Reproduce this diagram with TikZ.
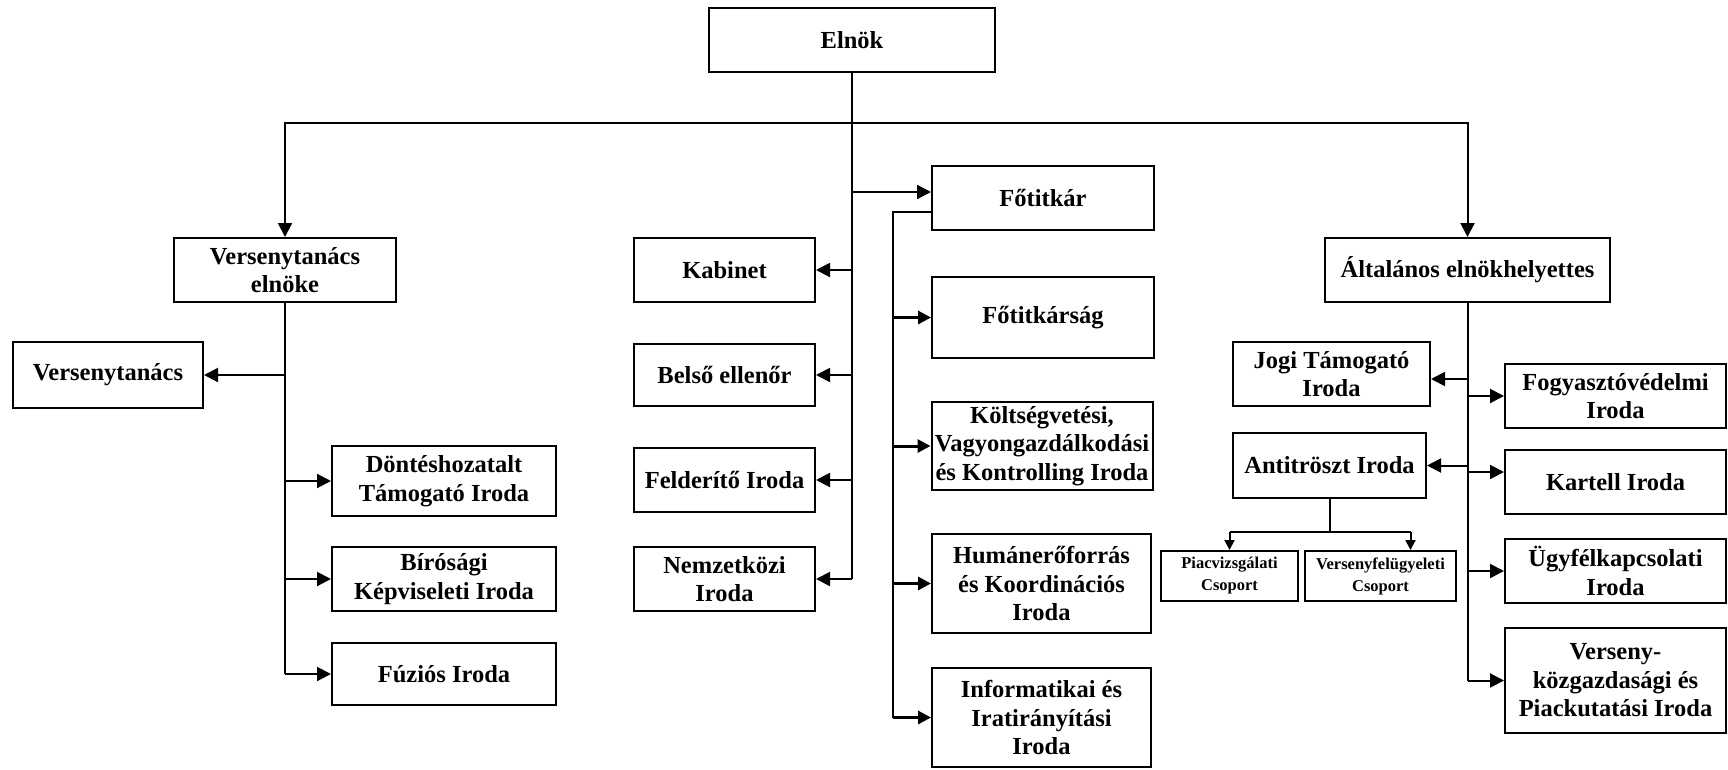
\documentclass[tikz,border=0pt]{standalone}
\usepackage{fontspec}
\setmainfont{Liberation Serif}
\usetikzlibrary{arrows.meta,calc}
\begin{document}
\begin{tikzpicture}[x=1pt,y=-1pt,
 box/.style={draw,line width=2pt,align=center,inner sep=0pt,font=\fontsize{24.5}{28.5}\selectfont\bfseries},
 sbox/.style={box,font=\fontsize{16.5}{22}\selectfont\bfseries},
 conn/.style={line width=2pt},
 arr/.style={conn,-{Triangle[length=14pt,width=14pt]}},
 farr/.style={line width=3pt,-{Triangle[length=13pt,width=13pt]}},
 sarr/.style={conn,-{Triangle[length=10pt,width=10pt]}}]
\useasboundingbox (0,0) rectangle (1728,769);
% top
\node[box,minimum width=286pt,minimum height=64pt] (elnok) at (852,40) {Elnök};
% left column
\node[box,minimum width=222pt,minimum height=64pt] (vte) at (285,270) {Versenytanács\\elnöke};
\node[box,minimum width=190pt,minimum height=66pt] (vt) at (108,375) {Versenytanács};
\node[box,minimum width=224pt,minimum height=70pt] (dont) at (444,481) {Döntéshozatalt\\Támogató Iroda};
\node[box,minimum width=224pt,minimum height=64pt] (biro) at (444,579) {Bírósági\\Képviseleti Iroda};
\node[box,minimum width=224pt,minimum height=62pt] (fuzi) at (444,674) {Fúziós Iroda};
% middle column
\node[box,minimum width=181pt,minimum height=64pt] (kab) at (724.5,270) {Kabinet};
\node[box,minimum width=181pt,minimum height=62pt] (bels) at (724.5,375) {Belső ellenőr};
\node[box,minimum width=181pt,minimum height=64pt] (feld) at (724.5,480) {Felderítő Iroda};
\node[box,minimum width=181pt,minimum height=64pt] (nemz) at (724.5,579) {Nemzetközi\\Iroda};
% Főtitkár column
\node[box,minimum width=222pt,minimum height=64pt] (fot) at (1043,198) {Főtitkár};
\node[box,minimum width=222pt,minimum height=81pt] (fotsag) at (1043,317.5) {Főtitkárság};
\node[box,minimum width=221pt,minimum height=88pt] (kolt) at (1042,446) {Költségvetési,\\Vagyongazdálkodási\\és Kontrolling Iroda};
\node[box,minimum width=219pt,minimum height=99pt] (human) at (1041.5,583.5) {Humánerőforrás\\és Koordinációs\\Iroda};
\node[box,minimum width=219pt,minimum height=99pt] (info) at (1041.5,717.5) {Informatikai és\\Iratirányítási\\Iroda};
% right side
\node[box,minimum width=285pt,minimum height=64pt] (alt) at (1467.5,270) {Általános elnökhelyettes};
\node[box,minimum width=197pt,minimum height=64pt] (jogi) at (1331.5,374) {Jogi Támogató\\Iroda};
\node[box,minimum width=193pt,minimum height=65pt] (anti) at (1329.5,465.5) {Antitröszt Iroda};
\node[sbox,minimum width=137pt,minimum height=50pt] (piac) at (1229.5,576) {Piacvizsgálati\\Csoport};
\node[sbox,minimum width=151pt,minimum height=50pt] (vfel) at (1380.5,576) {Versenyfelügyeleti\\Csoport};
\node[box,minimum width=221pt,minimum height=64pt] (fogy) at (1615.5,396) {Fogyasztóvédelmi\\Iroda};
\node[box,minimum width=221pt,minimum height=64pt] (kart) at (1615.5,482) {Kartell Iroda};
\node[box,minimum width=221pt,minimum height=64pt] (ugyf) at (1615.5,571) {Ügyfélkapcsolati\\Iroda};
\node[box,minimum width=221pt,minimum height=105pt] (vkozg) at (1615.5,680.5) {Verseny-\\közgazdasági és\\Piackutatási Iroda};

% connectors from Elnök
\coordinate (top) at (852,123);
\draw[conn] (elnok.south) -- (elnok.south |- nemz.east);
\draw[arr] (top) -| (vte.north);
\draw[arr] (top) -| (alt.north);
\coordinate (fotA) at ([yshift=6pt]fot.west);
\draw[arr] (elnok.south |- fotA) -- (fotA);
\draw[arr] (elnok.south |- kab.east) -- (kab.east);
\draw[arr] (elnok.south |- bels.east) -- (bels.east);
\draw[arr] (elnok.south |- feld.east) -- (feld.east);
\draw[arr] (elnok.south |- nemz.east) -- (nemz.east);

% Főtitkár branch
\coordinate (fotB) at ([yshift=-14pt]fot.west);
\coordinate (fx) at (893,212);
\draw[conn] (fotB) -- (fx) -- (fx |- info.west);
\draw[farr] (fx |- fotsag.west) -- (fotsag.west);
\draw[farr] (fx |- kolt.west) -- (kolt.west);
\draw[farr] (fx |- human.west) -- (human.west);
\draw[farr] (fx |- info.west) -- (info.west);

% Versenytanács elnöke branch
\draw[conn] (vte.south) -- (vte.south |- fuzi.west);
\draw[arr] (vte.south |- vt.east) -- (vt.east);
\draw[arr] (vte.south |- dont.west) -- (dont.west);
\draw[arr] (vte.south |- biro.west) -- (biro.west);
\draw[arr] (vte.south |- fuzi.west) -- (fuzi.west);

% Általános elnökhelyettes branch
\coordinate (jogiA) at ([yshift=-5pt]jogi.east);
\coordinate (kartA) at ([yshift=10pt]kart.west);
\draw[conn] (alt.south) -- (alt.south |- vkozg.west);
\draw[arr] (alt.south |- jogiA) -- (jogiA);
\draw[arr] (alt.south |- fogy.west) -- (fogy.west);
\draw[arr] (alt.south |- anti.east) -- (anti.east);
\draw[arr] (alt.south |- kartA) -- (kartA);
\draw[arr] (alt.south |- ugyf.west) -- (ugyf.west);
\draw[arr] (alt.south |- vkozg.west) -- (vkozg.west);

% Antitröszt groups
\coordinate (aj) at (1330,532);
\coordinate (vfA) at ([xshift=30pt]vfel.north);
\draw[conn] (anti.south) -- (anti.south |- aj);
\draw[conn] (piac.north |- aj) -- (vfA |- aj);
\draw[sarr] (piac.north |- aj) -- (piac.north);
\draw[sarr] (vfA |- aj) -- (vfA);
\end{tikzpicture}
\end{document}
